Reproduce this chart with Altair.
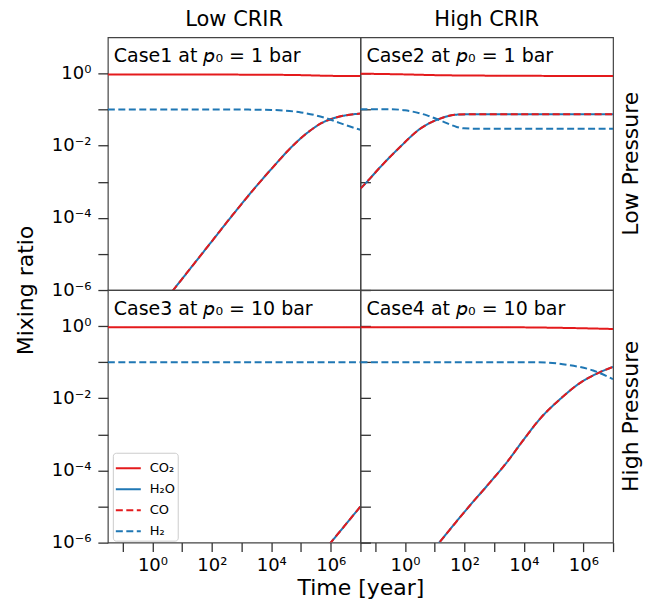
import altair as alt
import pandas as pd

species = ["CO₂", "H₂O", "CO", "H₂"]
colors = ["#e41a1c", "#1f77b4", "#e41a1c", "#1f77b4"]
dashes = [[1, 0], [1, 0], [7, 3.5], [7, 3.5]]

# log10(time [yr]) and log10(mixing ratio)
# Case 1 (low CRIR, 1 bar)
c1_co2_t = [-1.5, 2.0, 4.0, 5.0, 6.0, 7.0]
c1_co2_y = [-0.03, -0.03, -0.035, -0.045, -0.065, -0.07]
c1_h2o_t = [0.0, 0.7, 1.5, 2.0, 2.7, 3.5, 4.16, 4.7, 5.28, 5.7, 6.17, 6.5, 7.0]
c1_h2o_y = [-6.7, -6.0, -5.17, -4.65, -3.92, -3.12, -2.5, -2.02, -1.6, -1.37, -1.22, -1.16, -1.11]
c1_h2_t = [-1.5, 3.0, 4.0, 4.5, 5.0, 5.5, 6.0, 6.5, 7.0]
c1_h2_y = [-1.0, -1.0, -1.01, -1.03, -1.08, -1.16, -1.28, -1.43, -1.56]

# Case 2 (high CRIR, 1 bar)
c2_co2_t = [-1.5, 0.0, 1.0, 2.0, 7.0]
c2_co2_y = [-0.005, -0.025, -0.045, -0.055, -0.07]
c2_h2o_t = [-1.5, -1.28, -0.83, -0.16, 0.51, 1.18, 1.74, 2.3, 3.0, 7.0]
c2_h2o_y = [-3.19, -3.0, -2.59, -2.03, -1.53, -1.25, -1.14, -1.13, -1.13, -1.13]
c2_h2_t = [-1.5, -0.5, 0.0, 0.74, 1.3, 1.74, 1.97, 2.5, 7.0]
c2_h2_y = [-0.99, -0.99, -1.02, -1.16, -1.34, -1.48, -1.52, -1.53, -1.53]

# Case 3 (low CRIR, 10 bar)
c3_co2_t = [-1.5, 7.0]
c3_co2_y = [-0.03, -0.03]
c3_h2o_t = [5.5, 6.0, 6.5, 7.0]
c3_h2o_y = [-6.5, -6.0, -5.5, -5.0]
c3_h2_t = [-1.5, 7.0]
c3_h2_y = [-1.0, -1.0]

# Case 4 (high CRIR, 10 bar)
c4_co2_t = [-1.5, 4.0, 5.0, 6.0, 7.0]
c4_co2_y = [-0.03, -0.035, -0.045, -0.06, -0.08]
c4_h2o_t = [0.5, 1.15, 2.08, 2.86, 3.42, 3.98, 4.54, 5.21, 5.88, 6.55, 7.0]
c4_h2o_y = [-6.65, -6.0, -5.07, -4.33, -3.78, -3.16, -2.57, -2.03, -1.58, -1.28, -1.13]
c4_h2_t = [-1.5, 4.0, 4.76, 5.44, 6.33, 7.0]
c4_h2_y = [-1.0, -1.0, -1.01, -1.07, -1.23, -1.47]

case_texts = ["Case1 at 𝘱₀ = 1 bar", "Case2 at 𝘱₀ = 1 bar",
              "Case3 at 𝘱₀ = 10 bar", "Case4 at 𝘱₀ = 10 bar"]
col_titles = ["Low CRIR", "High CRIR"]
row_titles = ["Low Pressure", "High Pressure"]

x_ticks = [1e-1, 1e0, 1e1, 1e2, 1e3, 1e4, 1e5, 1e6, 1e7]
y_ticks = [1e-6, 1e-5, 1e-4, 1e-3, 1e-2, 1e-1, 1e0]

panels_raw = [
    [(c1_co2_t, c1_co2_y), (c1_h2o_t, c1_h2o_y), (c1_h2o_t, c1_h2o_y), (c1_h2_t, c1_h2_y)],
    [(c2_co2_t, c2_co2_y), (c2_h2o_t, c2_h2o_y), (c2_h2o_t, c2_h2o_y), (c2_h2_t, c2_h2_y)],
    [(c3_co2_t, c3_co2_y), (c3_h2o_t, c3_h2o_y), (c3_h2o_t, c3_h2o_y), (c3_h2_t, c3_h2_y)],
    [(c4_co2_t, c4_co2_y), (c4_h2o_t, c4_h2o_y), (c4_h2o_t, c4_h2o_y), (c4_h2_t, c4_h2_y)],
]

FONT = "DejaVu Sans"
W = H = 253
XLAB = ("datum.value==1?'10⁰':datum.value==100?'10²':datum.value==10000?'10⁴':"
        "datum.value==1000000?'10⁶':''")
YLAB = ("datum.value==1?'10⁰':datum.value==0.01?'10⁻²':datum.value==0.0001?'10⁻⁴':"
        "datum.value==0.000001?'10⁻⁶':''")


def make_df(i):
    rows = []
    for s, (ts, ys) in zip(species, panels_raw[i]):
        for k, (t, y) in enumerate(zip(ts, ys)):
            rows.append({"species": s, "t": 10 ** t, "y": 10 ** y, "k": k})
    return pd.DataFrame(rows)


def panel(i):
    left = i % 2 == 0
    bottom = i >= 2
    common_x = dict(values=x_ticks, labelExpr=XLAB, tickSize=9, domain=False,
                    grid=False, labelPadding=5)
    common_y = dict(values=y_ticks, labelExpr=YLAB, tickSize=10, domain=False,
                    grid=False, labelPadding=7)
    if bottom:
        if i == 2:
            xa = alt.Axis(**common_x, title="Time [year]", titleX=W,
                          titleAlign="center", titleFontSize=22,
                          titleFontWeight="normal", titlePadding=3)
        else:
            xa = alt.Axis(**common_x, title=None)
    else:
        xa = None
    if left:
        if i == 2:
            ya = alt.Axis(**common_y, title="Mixing ratio", titleY=0,
                          titleFontSize=22, titleFontWeight="normal",
                          titlePadding=14)
        else:
            ya = alt.Axis(**common_y, title=None)
    else:
        ya = alt.Axis(values=y_ticks, labels=False, tickSize=10, domain=False,
                      grid=False, offset=-10, title=None)

    if i == 2:
        leg = alt.Legend(title=None, orient="none", legendX=5, legendY=163,
                         symbolType="stroke", symbolSize=625, symbolStrokeWidth=2,
                         labelFontSize=13, labelFont=FONT, rowPadding=-5,
                         labelOffset=8, padding=2, strokeColor="#cccccc",
                         fillColor="white", cornerRadius=3)
    else:
        leg = None

    enc_c = alt.Color("species:N", scale=alt.Scale(domain=species, range=colors),
                      legend=leg)
    enc_d = alt.StrokeDash("species:N", scale=alt.Scale(domain=species, range=dashes),
                           legend=leg)

    lines = alt.Chart(make_df(i)).mark_line(strokeWidth=2, clip=True,
                                           interpolate="monotone").encode(
        x=alt.X("t:Q", scale=alt.Scale(type="log", domain=[10 ** -1.5, 1e7], nice=False),
                axis=xa),
        y=alt.Y("y:Q", scale=alt.Scale(type="log", domain=[1e-6, 1e1], nice=False),
                axis=ya),
        color=enc_c,
        strokeDash=enc_d,
        order="k:Q",
    )
    label = alt.Chart(pd.DataFrame({"txt": [case_texts[i]]})).mark_text(
        align="left", baseline="alphabetic", fontSize=19, font=FONT, color="black"
    ).encode(x=alt.value(6), y=alt.value(25), text="txt:N")
    layers = [lines, label]
    if not left:
        rl = alt.Chart(pd.DataFrame({"txt": [row_titles[i // 2]]})).mark_text(
            align="center", baseline="middle", angle=270, fontSize=22, font=FONT,
            color="black"
        ).encode(x=alt.value(W + 18), y=alt.value(H / 2), text="txt:N")
        layers.append(rl)
    ch = alt.layer(*layers).properties(width=W, height=H)
    if not bottom:
        ch = ch.properties(title=alt.Title(col_titles[i], fontSize=21, font=FONT,
                                           fontWeight="normal", offset=7))
    return ch


chart = alt.concat(panel(0), panel(1), panel(2), panel(3), columns=2, spacing=0,
                   bounds="flush").resolve_scale(
    color="independent", strokeDash="independent"
).resolve_legend(
    color="independent", strokeDash="independent"
).properties(
    padding={"left": 5, "top": 0, "right": 0, "bottom": 0}
).configure_view(
    stroke="#444444", strokeWidth=1.2
).configure_axis(
    labelFont=FONT, labelFontSize=18, labelColor="black", tickColor="#333333",
    tickWidth=1.3, titleFont=FONT, titleColor="black"
).configure_title(color="black")

chart.save("out.html", embed_options={"renderer": "svg", "actions": False})
